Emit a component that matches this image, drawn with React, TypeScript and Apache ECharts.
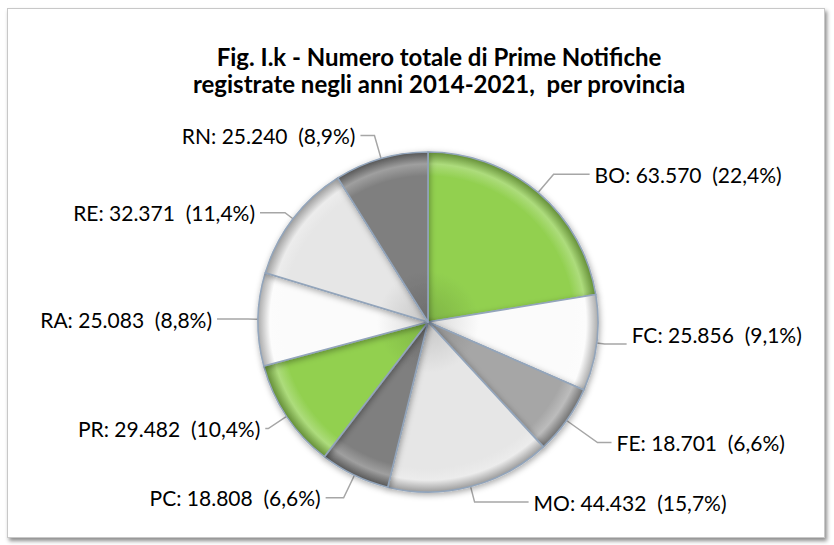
import React, { useEffect, useRef } from "react";
import * as echarts from "echarts";

const titleLines = [
  "Fig. I.k - Numero totale di Prime Notifiche",
  "registrate negli anni 2014-2021,  per provincia",
];
const provinces = ["BO", "FC", "FE", "MO", "PC", "PR", "RA", "RE", "RN"];
const counts = [63570, 25856, 18701, 44432, 18808, 29482, 25083, 32371, 25240];
const sliceColors = [
  "#92d050",
  "#fbfbfb",
  "#a6a6a6",
  "#e6e6e6",
  "#7f7f7f",
  "#92d050",
  "#fbfbfb",
  "#e6e6e6",
  "#7f7f7f",
];
// leader-line segment lengths per slice (radial, horizontal)
const lineLen1 = [24, 8, 38, 16, 25, 22, 10, 10, 24];
const lineLen2 = [36, 22, 14, 54, 18, 3, 31, 25, 14];
// small vertical nudges of individual labels
const labelNudgeY = [0, -10, 0, 0, 0, 0, 0, 0, 0];

const CX = 428;
const CY = 322;
const R = 170;

function fmtThousands(n: number): string {
  return String(n).replace(/\B(?=(\d{3})+(?!\d))/g, ".");
}

function shade(hex: string, f: number): string {
  const v = parseInt(hex.slice(1), 16);
  let r = (v >> 16) & 255,
    g = (v >> 8) & 255,
    b = v & 255;
  if (f < 0) {
    r = Math.round(r * (1 + f));
    g = Math.round(g * (1 + f));
    b = Math.round(b * (1 + f));
  } else {
    r = Math.round(r + (255 - r) * f);
    g = Math.round(g + (255 - g) * f);
    b = Math.round(b + (255 - b) * f);
  }
  return `rgb(${r},${g},${b})`;
}

export default function App() {
  const ref = useRef<HTMLDivElement>(null);
  useEffect(() => {
    if (!ref.current) return;
    const chart = echarts.init(ref.current, undefined, { renderer: "svg" });
    const total = counts.reduce((a, b) => a + b, 0);
    const data = provinces.map((p, i) => ({
      name: p,
      value: counts[i],
      labelLine: { length: lineLen1[i], length2: lineLen2[i] },
      itemStyle: {
        color: {
          type: "radial",
          x: CX,
          y: CY,
          r: R,
          global: true,
          colorStops: [
            { offset: 0, color: shade(sliceColors[i], -0.14) },
            { offset: 0.3, color: sliceColors[i] },
            { offset: 0.86, color: sliceColors[i] },
            { offset: 0.93, color: shade(sliceColors[i], 0.25) },
            { offset: 1, color: shade(sliceColors[i], -0.32) },
          ],
        },
      },
    }));
    chart.setOption({
      animation: false,
      title: {
        text: titleLines.join("\n"),
        left: 434,
        textAlign: "center",
        top: 38,
        textStyle: {
          fontFamily: "Lato",
          fontWeight: "bold",
          fontSize: 24,
          lineHeight: 27,
          color: "#000",
        },
      },
      series: [
        {
          type: "pie",
          center: [CX, CY],
          radius: R,
          startAngle: 90,
          clockwise: true,
          data,
          itemStyle: {
            borderColor: "#93a5bb",
            borderWidth: 1.6,
            shadowBlur: 6,
            shadowColor: "rgba(0,0,0,0.35)",
            shadowOffsetX: 1,
            shadowOffsetY: 2,
          },
          label: {
            show: true,
            position: "outside",
            fontFamily: "Lato",
            fontSize: 21,
            color: "#000",
            formatter: (p: any) => {
              const pct = ((p.value / total) * 100).toFixed(1).replace(".", ",");
              return `${p.name}: ${fmtThousands(p.value)}  (${pct}%)`;
            },
          },
          labelLayout: (params: any) =>
            labelNudgeY[params.dataIndex] ? { dy: labelNudgeY[params.dataIndex] } : {},
          labelLine: {
            show: true,
            lineStyle: { color: "#a6a6a6", width: 1.5 },
          },
          emphasis: { disabled: true },
        },
      ],
    });
    return () => chart.dispose();
  }, []);
  return (
    <div
      style={{
        position: "fixed",
        left: 0,
        top: 0,
        width: 834,
        height: 545,
        background: "#fff",
      }}
    >
      <div
        style={{
          position: "absolute",
          left: 7,
          top: 8,
          width: 816,
          height: 528,
          border: "1px solid #c8c8c8",
          boxShadow: "2px 3px 4px rgba(0,0,0,0.45)",
          background: "#fff",
        }}
      />
      <div
        ref={ref}
        style={{ position: "absolute", left: 0, top: 0, width: 834, height: 545 }}
      />
    </div>
  );
}
